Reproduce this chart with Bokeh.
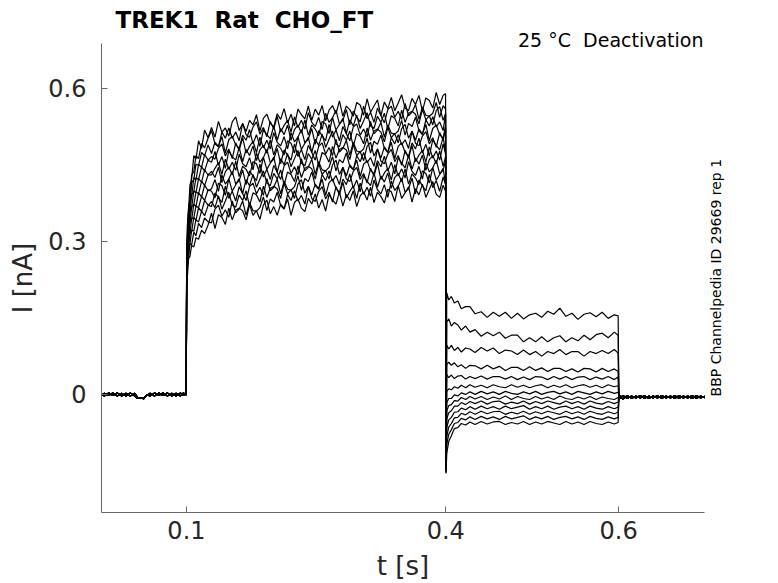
import math
from bokeh.plotting import figure
from bokeh.models import Range1d, FixedTicker, ColumnDataSource, Title, LinearAxis
from bokeh.embed import file_html
from bokeh.resources import INLINE

# ---------------- data ----------------
title_text = "TREK1 \u00a0Rat \u00a0CHO_FT"
cond_text = "25 °C \u00a0Deactivation"
side_text = "BBP Channelpedia ID 29669 rep 1"

x_ticks = [0.1, 0.4, 0.6]
x_tick_labels = ["0.1", "0.4", "0.6"]
y_ticks = [0.0, 0.3, 0.6]
y_tick_labels = ["0", "0.3", "0.6"]

# holding baseline before the pulse (s, nA)
base_t = [0.0, 0.005, 0.01, 0.015, 0.02, 0.025, 0.03, 0.035, 0.04, 0.0435, 0.047, 0.0505,
          0.054, 0.058, 0.063, 0.068, 0.073, 0.078, 0.083, 0.088, 0.093, 0.0965, 0.0998]
base_a = [0.002, -0.003, 0.003, -0.002, 0.003, -0.003, 0.002, -0.003, 0.002, -0.006, -0.008, -0.007,
          -0.002, 0.002, -0.003, 0.003, -0.002, 0.003, -0.003, 0.002, -0.003, 0.003, -0.001]
base_b = [-0.003, 0.002, -0.002, 0.003, -0.003, 0.002, -0.003, 0.003, -0.003, -0.008, -0.006, -0.009,
          -0.001, -0.003, 0.003, -0.002, 0.003, -0.003, 0.002, -0.003, 0.003, -0.002, 0.002]

# activating pulse 0.1 - 0.4 s
act_t = [0.1002, 0.1012, 0.1025, 0.104, 0.106, 0.1085, 0.111, 0.114, 0.1175, 0.121, 0.125,
         0.129, 0.133, 0.137, 0.141, 0.145, 0.149, 0.153, 0.157, 0.161, 0.165, 0.169, 0.173,
         0.177, 0.181, 0.185, 0.189, 0.193, 0.197,
         0.201, 0.205, 0.209, 0.213, 0.217, 0.221, 0.225, 0.229, 0.233, 0.237, 0.241, 0.245,
         0.249, 0.253, 0.257, 0.261, 0.265, 0.269, 0.273, 0.277, 0.281, 0.285, 0.289, 0.293, 0.297,
         0.301, 0.305, 0.309, 0.313, 0.317, 0.321, 0.325, 0.329, 0.333, 0.337, 0.341, 0.345,
         0.349, 0.353, 0.357, 0.361, 0.365, 0.369, 0.373, 0.377, 0.381, 0.385, 0.389, 0.393, 0.397,
         0.3998]

act_0 = [0.272, 0.335, 0.362, 0.41, 0.422, 0.468, 0.461, 0.497, 0.482, 0.518, 0.503,
         0.523, 0.504, 0.535, 0.514, 0.522, 0.506, 0.534, 0.544, 0.517, 0.531, 0.515, 0.537, 0.528, 0.548, 0.516, 0.541, 0.549, 0.531,
         0.524, 0.55, 0.539, 0.56, 0.532, 0.549, 0.526, 0.559, 0.548, 0.54, 0.565, 0.537, 0.559, 0.547, 0.566, 0.536, 0.557, 0.566, 0.55, 0.575, 0.545, 0.565, 0.558, 0.545, 0.572,
         0.567, 0.547, 0.579, 0.553, 0.565, 0.577, 0.546, 0.573, 0.56, 0.582, 0.556, 0.571, 0.587, 0.561, 0.556, 0.58, 0.568, 0.586, 0.555, 0.581, 0.576, 0.561, 0.592, 0.568, 0.586,
         0.589]
act_1 = [0.258, 0.331, 0.368, 0.382, 0.43, 0.436, 0.468, 0.462, 0.492, 0.483, 0.502,
         0.517, 0.491, 0.485, 0.514, 0.502, 0.522, 0.502, 0.514, 0.497, 0.531, 0.509, 0.504, 0.524, 0.534, 0.51, 0.523, 0.505, 0.535,
         0.52, 0.545, 0.514, 0.527, 0.537, 0.514, 0.544, 0.523, 0.537, 0.52, 0.552, 0.533, 0.525, 0.543, 0.519, 0.551, 0.533, 0.542, 0.557, 0.53, 0.537, 0.558, 0.528, 0.555, 0.544,
         0.534, 0.565, 0.54, 0.553, 0.533, 0.561, 0.546, 0.532, 0.558, 0.565, 0.543, 0.555, 0.539, 0.57, 0.546, 0.553, 0.568, 0.539, 0.563, 0.547, 0.545, 0.551, 0.572, 0.543, 0.566,
         0.559]
act_2 = [0.266, 0.309, 0.36, 0.372, 0.415, 0.421, 0.451, 0.449, 0.474, 0.468, 0.489,
         0.472, 0.494, 0.486, 0.505, 0.473, 0.499, 0.506, 0.489, 0.482, 0.508, 0.498, 0.519, 0.491, 0.509, 0.486, 0.519, 0.509, 0.501,
         0.526, 0.498, 0.521, 0.509, 0.528, 0.498, 0.519, 0.528, 0.512, 0.538, 0.508, 0.528, 0.52, 0.507, 0.535, 0.53, 0.511, 0.543, 0.518, 0.529, 0.541, 0.511, 0.538, 0.526, 0.547,
         0.521, 0.536, 0.552, 0.526, 0.521, 0.545, 0.533, 0.551, 0.52, 0.546, 0.541, 0.526, 0.557, 0.533, 0.551, 0.555, 0.549, 0.53, 0.559, 0.538, 0.546, 0.528, 0.556, 0.564, 0.537,
         0.55]
act_3 = [0.249, 0.315, 0.339, 0.378, 0.388, 0.425, 0.42, 0.451, 0.445, 0.47, 0.459,
         0.466, 0.461, 0.482, 0.491, 0.467, 0.481, 0.462, 0.493, 0.478, 0.503, 0.473, 0.486, 0.496, 0.474, 0.504, 0.483, 0.498, 0.481,
         0.513, 0.494, 0.487, 0.505, 0.481, 0.513, 0.495, 0.504, 0.519, 0.493, 0.5, 0.521, 0.49, 0.517, 0.507, 0.497, 0.529, 0.504, 0.518, 0.497, 0.525, 0.511, 0.497, 0.524, 0.53,
         0.508, 0.52, 0.504, 0.535, 0.511, 0.518, 0.533, 0.504, 0.528, 0.512, 0.51, 0.516, 0.537, 0.508, 0.531, 0.525, 0.543, 0.517, 0.509, 0.538, 0.526, 0.544, 0.524, 0.534, 0.517,
         0.55]
act_4 = [0.257, 0.294, 0.343, 0.352, 0.392, 0.397, 0.425, 0.421, 0.446, 0.438, 0.459,
         0.455, 0.476, 0.449, 0.466, 0.443, 0.477, 0.466, 0.459, 0.484, 0.456, 0.48, 0.468, 0.487, 0.458, 0.479, 0.488, 0.473, 0.499,
         0.469, 0.489, 0.482, 0.469, 0.497, 0.492, 0.473, 0.505, 0.48, 0.492, 0.504, 0.474, 0.5, 0.488, 0.51, 0.484, 0.5, 0.516, 0.491, 0.485, 0.509, 0.498, 0.516, 0.486, 0.511,
         0.506, 0.491, 0.522, 0.498, 0.516, 0.52, 0.514, 0.495, 0.524, 0.503, 0.511, 0.493, 0.521, 0.529, 0.502, 0.516, 0.498, 0.52, 0.51, 0.529, 0.497, 0.521, 0.528, 0.509, 0.502,
         0.527]
act_5 = [0.24, 0.301, 0.32, 0.358, 0.365, 0.399, 0.395, 0.423, 0.416, 0.44, 0.43,
         0.43, 0.443, 0.454, 0.431, 0.461, 0.441, 0.455, 0.439, 0.471, 0.452, 0.446, 0.464, 0.44, 0.473, 0.455, 0.464, 0.48, 0.454,
         0.461, 0.482, 0.452, 0.479, 0.469, 0.459, 0.491, 0.466, 0.48, 0.46, 0.488, 0.474, 0.459, 0.486, 0.493, 0.471, 0.484, 0.468, 0.5, 0.475, 0.482, 0.498, 0.469, 0.494, 0.477,
         0.475, 0.481, 0.502, 0.473, 0.496, 0.49, 0.508, 0.482, 0.474, 0.503, 0.491, 0.509, 0.489, 0.499, 0.482, 0.516, 0.492, 0.487, 0.506, 0.515, 0.491, 0.503, 0.484, 0.513, 0.498,
         0.522]
act_6 = [0.248, 0.281, 0.325, 0.334, 0.368, 0.371, 0.397, 0.393, 0.418, 0.409, 0.43,
         0.437, 0.425, 0.445, 0.415, 0.436, 0.446, 0.43, 0.457, 0.427, 0.447, 0.441, 0.428, 0.456, 0.452, 0.433, 0.465, 0.441, 0.453,
         0.465, 0.435, 0.462, 0.45, 0.472, 0.446, 0.462, 0.478, 0.453, 0.448, 0.472, 0.461, 0.478, 0.448, 0.474, 0.469, 0.455, 0.486, 0.463, 0.48, 0.484, 0.479, 0.46, 0.49, 0.468,
         0.476, 0.458, 0.486, 0.494, 0.467, 0.481, 0.463, 0.485, 0.475, 0.494, 0.462, 0.486, 0.493, 0.474, 0.467, 0.493, 0.481, 0.502, 0.473, 0.49, 0.467, 0.499, 0.488, 0.479, 0.504,
         0.475]
act_7 = [0.229, 0.287, 0.302, 0.338, 0.342, 0.373, 0.368, 0.395, 0.387, 0.41, 0.399,
         0.403, 0.421, 0.398, 0.43, 0.412, 0.422, 0.437, 0.412, 0.419, 0.44, 0.411, 0.438, 0.428, 0.419, 0.451, 0.426, 0.441, 0.421,
         0.449, 0.435, 0.421, 0.448, 0.455, 0.433, 0.446, 0.43, 0.462, 0.438, 0.445, 0.461, 0.431, 0.456, 0.44, 0.438, 0.445, 0.466, 0.438, 0.46, 0.454, 0.473, 0.447, 0.44, 0.468,
         0.456, 0.474, 0.454, 0.464, 0.447, 0.481, 0.457, 0.452, 0.471, 0.48, 0.456, 0.468, 0.449, 0.478, 0.463, 0.488, 0.456, 0.469, 0.478, 0.455, 0.485, 0.463, 0.477, 0.459, 0.491,
         0.471]
act_8 = [0.238, 0.266, 0.307, 0.314, 0.345, 0.346, 0.369, 0.366, 0.388, 0.38, 0.401,
         0.398, 0.385, 0.414, 0.409, 0.39, 0.423, 0.398, 0.411, 0.423, 0.393, 0.421, 0.409, 0.431, 0.406, 0.422, 0.438, 0.414, 0.409,
         0.433, 0.422, 0.44, 0.41, 0.436, 0.431, 0.417, 0.448, 0.425, 0.443, 0.447, 0.442, 0.422, 0.452, 0.431, 0.439, 0.422, 0.45, 0.459, 0.431, 0.445, 0.428, 0.45, 0.441, 0.459,
         0.427, 0.451, 0.458, 0.439, 0.432, 0.458, 0.446, 0.467, 0.438, 0.455, 0.432, 0.464, 0.453, 0.444, 0.469, 0.441, 0.463, 0.451, 0.469, 0.439, 0.46, 0.468, 0.452, 0.477, 0.447,
         0.466]
act_9 = [0.221, 0.271, 0.285, 0.317, 0.319, 0.347, 0.341, 0.366, 0.358, 0.38, 0.371,
         0.368, 0.395, 0.386, 0.376, 0.408, 0.384, 0.398, 0.379, 0.407, 0.393, 0.38, 0.407, 0.414, 0.393, 0.406, 0.39, 0.423, 0.399,
         0.406, 0.422, 0.393, 0.418, 0.402, 0.4, 0.407, 0.428, 0.4, 0.423, 0.417, 0.436, 0.409, 0.402, 0.431, 0.419, 0.438, 0.418, 0.429, 0.411, 0.445, 0.422, 0.417, 0.437, 0.445,
         0.421, 0.433, 0.414, 0.443, 0.428, 0.453, 0.421, 0.434, 0.443, 0.42, 0.45, 0.428, 0.442, 0.424, 0.456, 0.437, 0.429, 0.447, 0.422, 0.454, 0.436, 0.444, 0.459, 0.432, 0.439,
         0.459]
act_10 = [0.228, 0.252, 0.289, 0.294, 0.322, 0.32, 0.342, 0.338, 0.359, 0.35, 0.37,
          0.378, 0.366, 0.389, 0.363, 0.379, 0.396, 0.371, 0.367, 0.391, 0.38, 0.399, 0.369, 0.395, 0.391, 0.377, 0.408, 0.386, 0.404,
          0.408, 0.403, 0.384, 0.414, 0.393, 0.401, 0.384, 0.412, 0.421, 0.394, 0.408, 0.391, 0.412, 0.403, 0.422, 0.39, 0.415, 0.422, 0.404, 0.396, 0.422, 0.411, 0.432, 0.404, 0.42,
          0.397, 0.429, 0.418, 0.409, 0.434, 0.406, 0.428, 0.416, 0.434, 0.404, 0.425, 0.433, 0.417, 0.442, 0.412, 0.432, 0.424, 0.411, 0.438, 0.433, 0.414, 0.445, 0.42, 0.431, 0.443,
          0.412]
act_11 = [0.21, 0.255, 0.266, 0.295, 0.293, 0.318, 0.311, 0.335, 0.327, 0.346, 0.338,
          0.336, 0.363, 0.371, 0.349, 0.362, 0.347, 0.379, 0.356, 0.363, 0.379, 0.351, 0.376, 0.36, 0.359, 0.366, 0.387, 0.36, 0.383,
          0.377, 0.396, 0.37, 0.363, 0.392, 0.38, 0.399, 0.379, 0.39, 0.373, 0.407, 0.384, 0.378, 0.398, 0.407, 0.383, 0.396, 0.377, 0.407, 0.391, 0.416, 0.385, 0.398, 0.408, 0.384,
          0.414, 0.392, 0.406, 0.388, 0.42, 0.401, 0.393, 0.411, 0.386, 0.418, 0.4, 0.408, 0.423, 0.396, 0.403, 0.424, 0.393, 0.42, 0.409, 0.399, 0.431, 0.405, 0.419, 0.398, 0.426,
          0.411]
act_12 = [0.216, 0.234, 0.267, 0.27, 0.292, 0.289, 0.307, 0.304, 0.322, 0.315, 0.332,
          0.355, 0.325, 0.352, 0.347, 0.333, 0.365, 0.342, 0.361, 0.365, 0.36, 0.342, 0.372, 0.351, 0.36, 0.343, 0.371, 0.381, 0.354,
          0.368, 0.351, 0.373, 0.364, 0.383, 0.351, 0.376, 0.383, 0.365, 0.358, 0.384, 0.373, 0.393, 0.365, 0.382, 0.359, 0.392, 0.381, 0.373, 0.397, 0.369, 0.392, 0.38, 0.399, 0.368,
          0.389, 0.397, 0.381, 0.406, 0.376, 0.396, 0.388, 0.375, 0.402, 0.397, 0.378, 0.409, 0.384, 0.395, 0.407, 0.377, 0.403, 0.391, 0.412, 0.386, 0.402, 0.417, 0.392, 0.386, 0.41,
          0.398]

# capacitive spike at the start of the test step
spike_t = 0.4003
spike_v = [-0.10, -0.105, -0.11, -0.115, -0.12, -0.125, -0.13, -0.135, -0.14, -0.145, -0.15, -0.153, -0.155]

# deactivation (test) step 0.4 - 0.6 s
deact_t = [0.4012, 0.4035, 0.4065, 0.41, 0.414, 0.418, 0.423, 0.428, 0.434, 0.441, 0.448, 0.455,
           0.462, 0.469, 0.476, 0.483, 0.49, 0.497, 0.504, 0.511, 0.518, 0.525, 0.532, 0.539,
           0.546, 0.553, 0.56, 0.567, 0.574, 0.581, 0.588, 0.595, 0.5995]

deact_0 = [0.199, 0.185, 0.192, 0.179, 0.183, 0.168, 0.172, 0.172, 0.158, 0.162, 0.151, 0.161,
           0.153, 0.161, 0.149, 0.159, 0.148, 0.156, 0.159, 0.151, 0.163, 0.157, 0.169, 0.153,
           0.159, 0.147, 0.157, 0.16, 0.152, 0.161, 0.149, 0.156, 0.154]
deact_1 = [0.142, 0.148, 0.134, 0.141, 0.136, 0.126, 0.134, 0.122, 0.127, 0.114, 0.122, 0.115,
           0.122, 0.11, 0.116, 0.116, 0.103, 0.111, 0.103, 0.113, 0.103, 0.111, 0.115, 0.103,
           0.111, 0.105, 0.116, 0.107, 0.117, 0.12, 0.111, 0.122, 0.116]
deact_2 = [0.097, 0.089, 0.096, 0.086, 0.092, 0.083, 0.091, 0.089, 0.082, 0.092, 0.085, 0.091,
           0.08, 0.087, 0.085, 0.078, 0.087, 0.078, 0.084, 0.075, 0.084, 0.08, 0.088, 0.078,
           0.084, 0.084, 0.075, 0.084, 0.08, 0.086, 0.08, 0.088, 0.081]
deact_3 = [0.059, 0.063, 0.057, 0.062, 0.054, 0.058, 0.051, 0.057, 0.056, 0.05, 0.057, 0.05,
           0.055, 0.047, 0.053, 0.053, 0.047, 0.054, 0.047, 0.052, 0.045, 0.051, 0.051, 0.045,
           0.05, 0.044, 0.051, 0.05, 0.044, 0.051, 0.045, 0.05, 0.045]
deact_4 = [0.039, 0.033, 0.038, 0.031, 0.036, 0.037, 0.03, 0.035, 0.031, 0.036, 0.03, 0.035,
           0.035, 0.03, 0.035, 0.029, 0.034, 0.029, 0.035, 0.034, 0.029, 0.035, 0.03, 0.035,
           0.029, 0.034, 0.035, 0.029, 0.034, 0.03, 0.035, 0.029, 0.034]
deact_5 = [0.006, 0.011, 0.009, 0.015, 0.012, 0.018, 0.013, 0.019, 0.014, 0.018, 0.013, 0.019,
           0.015, 0.013, 0.019, 0.014, 0.018, 0.013, 0.017, 0.019, 0.013, 0.018, 0.014, 0.019,
           0.013, 0.017, 0.019, 0.014, 0.018, 0.013, 0.019, 0.015, 0.017]
deact_6 = [-0.016, -0.008, -0.008, -0.001, -0.003, 0.003, 0.0, 0.005, 0.0, 0.006, 0.001, 0.005,
           0.0, 0.006, 0.002, 0.0, 0.005, 0.001, 0.006, 0.0, 0.004, 0.006, 0.001, 0.005,
           0.0, 0.006, 0.003, 0.0, 0.005, 0.001, 0.006, 0.002, 0.004]
deact_7 = [-0.032, -0.022, -0.02, -0.012, -0.013, -0.006, -0.01, -0.004, -0.009, -0.004, -0.01, -0.005,
           -0.009, -0.003, -0.01, -0.004, -0.008, -0.01, -0.004, -0.009, -0.005, -0.01, -0.003, -0.008,
           -0.01, -0.005, -0.009, -0.004, -0.01, -0.005, -0.008, -0.01, -0.006]
deact_8 = [-0.048, -0.036, -0.032, -0.023, -0.023, -0.016, -0.02, -0.014, -0.018, -0.013, -0.019, -0.014,
           -0.013, -0.019, -0.015, -0.018, -0.013, -0.019, -0.014, -0.018, -0.013, -0.016, -0.019, -0.013,
           -0.018, -0.014, -0.019, -0.013, -0.017, -0.019, -0.014, -0.018, -0.015]
deact_9 = [-0.065, -0.05, -0.045, -0.035, -0.034, -0.027, -0.03, -0.024, -0.029, -0.023, -0.028, -0.024,
           -0.029, -0.023, -0.028, -0.025, -0.022, -0.029, -0.024, -0.028, -0.023, -0.029, -0.025, -0.023,
           -0.028, -0.024, -0.029, -0.023, -0.027, -0.029, -0.024, -0.028, -0.025]
deact_10 = [-0.082, -0.064, -0.057, -0.046, -0.045, -0.037, -0.04, -0.034, -0.039, -0.033, -0.038, -0.034,
            -0.033, -0.039, -0.035, -0.038, -0.033, -0.039, -0.034, -0.038, -0.033, -0.036, -0.039, -0.033,
            -0.038, -0.034, -0.039, -0.033, -0.037, -0.039, -0.034, -0.038, -0.035]
deact_11 = [-0.098, -0.078, -0.069, -0.057, -0.055, -0.047, -0.05, -0.044, -0.049, -0.043, -0.048, -0.044,
            -0.049, -0.043, -0.048, -0.045, -0.042, -0.049, -0.044, -0.048, -0.043, -0.049, -0.045, -0.043,
            -0.048, -0.044, -0.049, -0.043, -0.047, -0.049, -0.044, -0.048, -0.045]
deact_12 = [-0.115, -0.092, -0.081, -0.067, -0.065, -0.057, -0.06, -0.054, -0.059, -0.053, -0.058, -0.054,
            -0.053, -0.059, -0.055, -0.058, -0.053, -0.059, -0.054, -0.058, -0.053, -0.056, -0.059, -0.053,
            -0.058, -0.054, -0.059, -0.053, -0.057, -0.059, -0.054, -0.058, -0.055]

# return to holding potential after 0.6 s
tail_t = [0.6003, 0.605, 0.61, 0.615, 0.62, 0.625, 0.63, 0.635, 0.64, 0.645, 0.65,
          0.655, 0.66, 0.665, 0.67, 0.675, 0.68, 0.685, 0.69, 0.695, 0.7]
tail_a = [-0.001, -0.009, -0.002, -0.008, -0.003, -0.007, -0.002, -0.008, -0.003, -0.007, -0.002,
          -0.007, -0.003, -0.008, -0.002, -0.007, -0.003, -0.008, -0.002, -0.007, -0.003]
tail_b = [-0.010, -0.002, -0.008, -0.003, -0.007, -0.002, -0.008, -0.003, -0.007, -0.002, -0.008,
          -0.003, -0.007, -0.002, -0.008, -0.003, -0.007, -0.002, -0.008, -0.003, -0.007]

act_traces = [act_0, act_1, act_2, act_3, act_4, act_5, act_6, act_7, act_8, act_9, act_10, act_11, act_12]
deact_traces = [deact_0, deact_1, deact_2, deact_3, deact_4, deact_5, deact_6, deact_7, deact_8,
                deact_9, deact_10, deact_11, deact_12]

# ---------------- build sweeps ----------------
xs, ys = [], []
for k in range(len(act_traces)):
    base = base_a if k % 2 == 0 else base_b
    tail = tail_a if k % 2 == 0 else tail_b
    n_act = min(len(act_t), len(act_traces[k]))
    n_de = min(len(deact_t), len(deact_traces[k]))
    x = base_t + act_t[:n_act] + [spike_t] + deact_t[:n_de] + tail_t
    y = base + act_traces[k][:n_act] + [spike_v[k]] + deact_traces[k][:n_de] + tail
    xs.append(x)
    ys.append(y)

source = ColumnDataSource(data=dict(xs=xs, ys=ys))

p = figure(width=778, height=583, output_backend="svg", toolbar_location=None,
           x_range=Range1d(0.0017, 0.6994), y_range=Range1d(-0.2314, 0.6876),
           min_border_left=101, min_border_right=74, min_border_top=43, min_border_bottom=71)

p.multi_line(xs="xs", ys="ys", source=source, line_color="black", line_width=1.2)

FONT = "DejaVu Sans"
p.grid.visible = False
p.outline_line_color = None
p.background_fill_color = "white"
p.border_fill_color = "white"

xax = p.below[0]
yax = p.left[0]
xax.ticker = FixedTicker(ticks=x_ticks)
xax.major_label_overrides = {t: s for t, s in zip(x_ticks, x_tick_labels)}
yax.ticker = FixedTicker(ticks=y_ticks)
yax.major_label_overrides = {t: s for t, s in zip(y_ticks, y_tick_labels)}
xax.axis_label = "t [s]"
yax.axis_label = "I [nA]"

for ax in (xax, yax):
    ax.axis_line_color = "#666666"
    ax.major_tick_line_color = "#666666"
    ax.minor_tick_line_color = None
    ax.major_tick_in = 6
    ax.major_tick_out = 0
    ax.major_label_text_font = FONT
    ax.major_label_text_font_size = "24px"
    ax.major_label_text_color = "#262626"
    ax.axis_label_text_font = FONT
    ax.axis_label_text_font_size = "26px"
    ax.axis_label_text_font_style = "normal"
    ax.axis_label_text_color = "#262626"
xax.major_label_standoff = 8
xax.axis_label_standoff = 9
yax.major_label_standoff = 15
yax.axis_label_standoff = 7

# right-hand vertical note: a single rotated label on a bare right axis,
# anchored where the note starts (bottom end) and reading upwards
SIDE_ANCHOR = -0.004
side_axis = LinearAxis(ticker=FixedTicker(ticks=[SIDE_ANCHOR]))
side_axis.major_label_overrides = {SIDE_ANCHOR: side_text}
side_axis.major_label_orientation = math.pi / 2
side_axis.axis_line_color = None
side_axis.major_tick_line_color = None
side_axis.minor_tick_line_color = None
side_axis.major_tick_in = 0
side_axis.major_tick_out = 0
side_axis.major_label_standoff = 12
side_axis.major_label_text_font = FONT
side_axis.major_label_text_font_size = "14px"
side_axis.major_label_text_color = "black"
p.add_layout(side_axis, "right")

# condition text, right aligned, adjacent to the frame top
cond = Title(text=cond_text, align="right", offset=1, text_font=FONT, text_font_size="19px",
             text_font_style="normal", text_color="black", vertical_align="bottom")
try:
    cond.standoff = -14
except Exception:
    cond.standoff = 0
p.add_layout(cond, "above")

p.title.text = title_text
p.title.text_font = FONT
p.title.text_font_style = "bold"
p.title.text_font_size = "23px"
p.title.text_color = "black"
p.title.align = "left"
p.title.offset = 14
p.title.standoff = 1

open("out.html", "w").write(file_html(p, INLINE))
